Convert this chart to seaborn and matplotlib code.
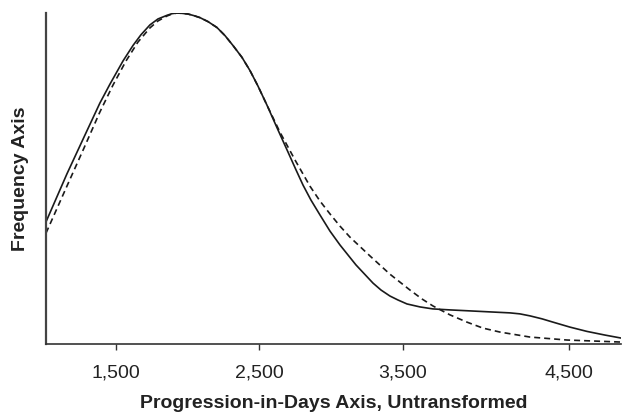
import matplotlib
matplotlib.use("Agg")
import matplotlib.pyplot as plt
import numpy as np
import pandas as pd
import seaborn as sns

# Solid curve (observed distribution), days vs relative frequency
solid_days = [1012, 1158, 1277, 1388, 1458, 1549, 1619, 1674, 1737, 1793, 1856,
              1891, 1926, 1960, 2002, 2044, 2086, 2142, 2205, 2260, 2316, 2379,
              2435, 2491, 2553, 2630, 2700, 2756, 2805, 2860, 2923, 2993, 3063,
              3174, 3293, 3349, 3411, 3467, 3530, 3621, 3711, 3830, 3970, 4109,
              4249, 4318, 4388, 4472, 4549, 4667, 4786, 4911, 5023]
solid_freq = [0.369, 0.514, 0.625, 0.728, 0.785, 0.855, 0.902, 0.934, 0.964, 0.982,
              0.993, 0.998, 1.000, 0.999, 0.997, 0.992, 0.986, 0.974, 0.956, 0.932,
              0.902, 0.866, 0.826, 0.779, 0.722, 0.647, 0.580, 0.526, 0.480, 0.435,
              0.390, 0.341, 0.299, 0.239, 0.184, 0.163, 0.145, 0.133, 0.121, 0.112,
              0.106, 0.103, 0.100, 0.097, 0.094, 0.091, 0.085, 0.076, 0.066, 0.051,
              0.038, 0.027, 0.018]

# Dashed curve (fitted distribution)
dashed_days = [1012, 1158, 1277, 1388, 1479, 1570, 1653, 1737, 1793, 1856, 1891,
               1926, 1960, 2002, 2044, 2086, 2142, 2205, 2260, 2316, 2379, 2435,
               2491, 2553, 2644, 2749, 2853, 2923, 2993, 3063, 3132, 3272, 3411,
               3551, 3635, 3711, 3830, 3949, 4060, 4179, 4388, 4646, 5016]
dashed_freq = [0.335, 0.477, 0.592, 0.701, 0.782, 0.855, 0.912, 0.955, 0.976, 0.991,
               0.997, 1.000, 0.999, 0.997, 0.992, 0.986, 0.974, 0.956, 0.932, 0.902,
               0.866, 0.826, 0.779, 0.722, 0.640, 0.556, 0.477, 0.432, 0.393, 0.356,
               0.323, 0.266, 0.211, 0.163, 0.136, 0.115, 0.088, 0.066, 0.048, 0.036,
               0.021, 0.012, 0.006]

tick_positions = [1500, 2500, 3500, 4660]
tick_labels = ["1,500", "2,500", "3,500", "4,500"]

x_label = "Progression-in-Days Axis, Untransformed"
y_label = "Frequency Axis"

sns.set_style("ticks")
plt.rcParams["font.family"] = ["Liberation Sans", "DejaVu Sans"]

W, H = 622, 418
fig = plt.figure(figsize=(W / 100, H / 100), dpi=100)
ax_left, ax_right, ax_top, ax_bottom = 46, 621, 13, 344
ax = fig.add_axes([ax_left / W, 1 - ax_bottom / H,
                   (ax_right - ax_left) / W, (ax_bottom - ax_top) / H])

df_solid = pd.DataFrame({"days": solid_days, "freq": solid_freq})
df_dashed = pd.DataFrame({"days": dashed_days, "freq": dashed_freq})

sns.lineplot(data=df_solid, x="days", y="freq", ax=ax, color="#1a1a1a",
             linewidth=1.2, sort=True, solid_joinstyle="round",
             solid_capstyle="round")
sns.lineplot(data=df_dashed, x="days", y="freq", ax=ax, color="#1a1a1a",
             linewidth=1.2, linestyle=(0, (3.6, 2.4)), sort=True,
             dash_joinstyle="round")

ax.set_xlim(1012, 5023)
ax.set_ylim(0, 1.0)

for s in ["top", "right"]:
    ax.spines[s].set_visible(False)
ax.spines["left"].set_color("#444444")
ax.spines["left"].set_linewidth(1.6)
ax.spines["bottom"].set_color("#333333")
ax.spines["bottom"].set_linewidth(1.2)

ax.set_yticks([])
ax.set_xticks(tick_positions)
ax.set_xticklabels(tick_labels)
ax.tick_params(axis="x", direction="out", length=4, width=1.0, color="#333333",
               pad=11, labelsize=14, labelcolor="#222222")

ax.set_xlabel(x_label, fontsize=14, fontweight="bold", color="#222222")
ax.set_ylabel(y_label, fontsize=14, fontweight="bold", color="#222222")
ax.xaxis.set_label_coords(0.5, -0.155)
ax.yaxis.set_label_coords(-0.03, 0.5)

fig.savefig("out.png", dpi=100, facecolor="white")
